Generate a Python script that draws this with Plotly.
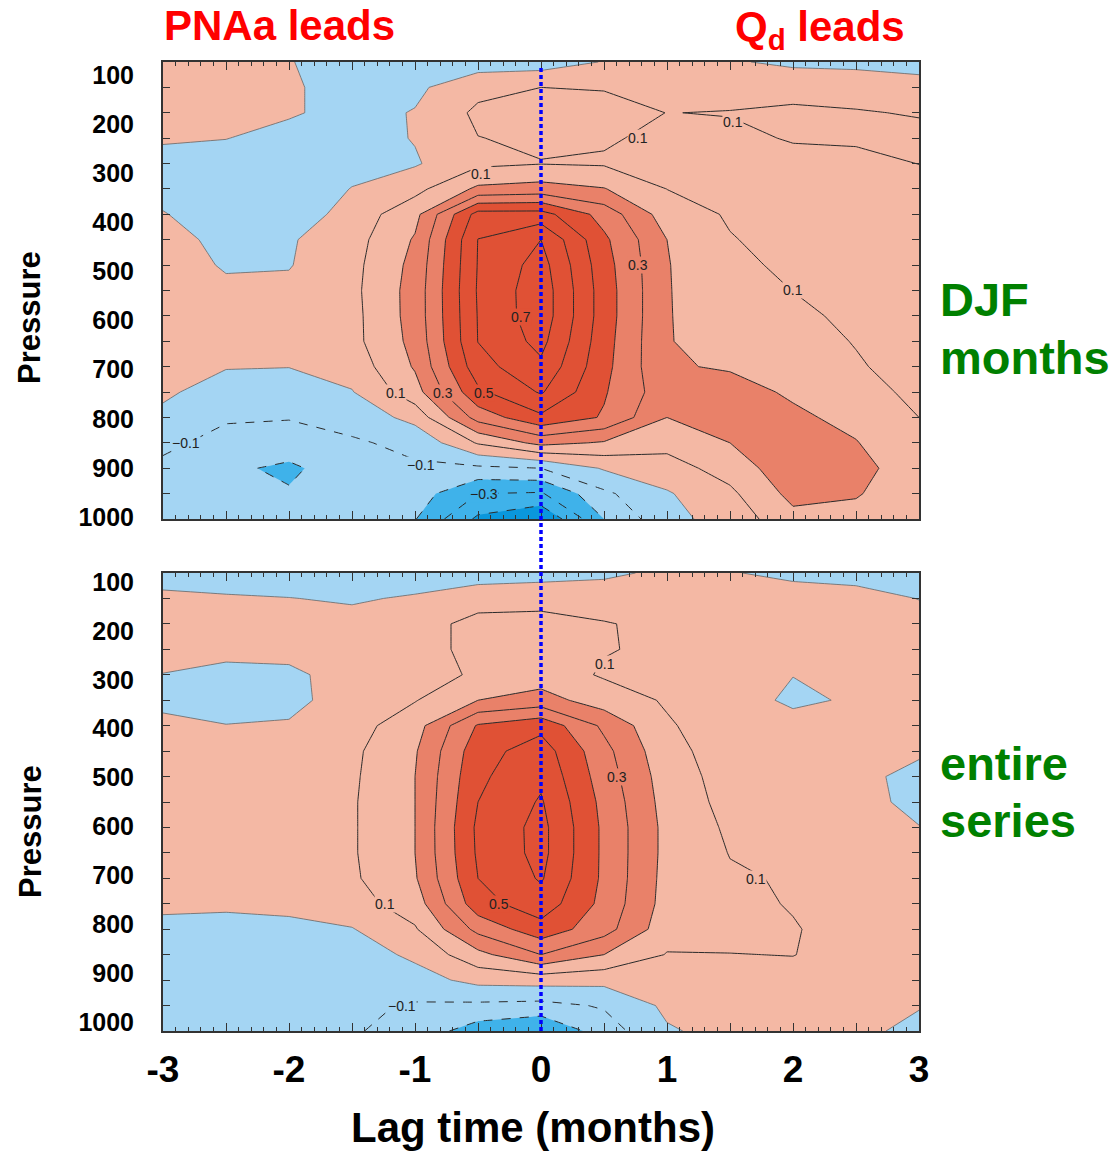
import plotly.graph_objects as go

# ---------------- data ----------------
LAGS = [-3.0, -2.5, -2.0, -1.5, -1.0, -0.5, 0.0, 0.5, 1.0, 1.5, 2.0, 2.5, 3.0]
PRESSURE = [100, 150, 200, 250, 300, 350, 400, 450, 500, 550,
            600, 650, 700, 750, 800, 850, 900, 950, 1000]

# lag-correlation, DJF months (rows = pressure, cols = lag)
DJF_CORR = [
    [0.05, 0.06, 0.005, -0.05, -0.06, -0.05, -0.05, 0.005, 0.03, 0.01, -0.02, -0.03, -0.05],
    [0.05, 0.05, 0.01, -0.03, -0.02, 0.07, 0.10, 0.095, 0.08, 0.07, 0.07, 0.07, 0.05],
    [0.04, 0.03, 0.01, -0.03, 0.005, 0.12, 0.14, 0.13, 0.099, 0.103, 0.115, 0.105, 0.095],
    [0.01, 0.002, -0.03, -0.04, 0.005, 0.098, 0.115, 0.11, 0.08, 0.085, 0.105, 0.11, 0.12],
    [-0.03, -0.04, -0.06, -0.03, -0.01, 0.08, 0.097, 0.09, 0.08, 0.085, 0.08, 0.08, 0.101],
    [-0.03, -0.05, -0.06, 0.003, 0.07, 0.22, 0.24, 0.205, 0.099, 0.085, 0.07, 0.06, 0.07],
    [0.005, -0.05, -0.06, 0.04, 0.17, 0.54, 0.54, 0.36, 0.15, 0.09, 0.06, 0.05, 0.05],
    [0.04, -0.03, -0.01, 0.06, 0.21, 0.602, 0.70, 0.42, 0.20, 0.105, 0.07, 0.05, 0.04],
    [0.05, -0.01, -0.005, 0.07, 0.23, 0.605, 0.74, 0.44, 0.205, 0.12, 0.083, 0.06, 0.04],
    [0.05, 0.02, 0.02, 0.075, 0.24, 0.61, 0.76, 0.45, 0.205, 0.14, 0.099, 0.07, 0.05],
    [0.05, 0.04, 0.05, 0.07, 0.24, 0.605, 0.76, 0.45, 0.205, 0.15, 0.12, 0.08, 0.055],
    [0.04, 0.03, 0.04, 0.07, 0.23, 0.602, 0.73, 0.44, 0.205, 0.16, 0.14, 0.095, 0.055],
    [0.03, 0.005, 0.002, 0.04, 0.21, 0.56, 0.68, 0.43, 0.21, 0.19, 0.16, 0.11, 0.06],
    [0.015, -0.04, -0.05, -0.005, 0.16, 0.48, 0.61, 0.41, 0.24, 0.24, 0.185, 0.14, 0.075],
    [-0.02, -0.09, -0.095, -0.07, 0.035, 0.34, 0.48, 0.39, 0.20, 0.26, 0.22, 0.17, 0.10],
    [-0.08, -0.13, -0.143, -0.11, -0.08, 0.11, 0.23, 0.19, 0.13, 0.20, 0.26, 0.205, 0.11],
    [-0.12, -0.18, -0.22, -0.14, -0.11, -0.12, -0.10, 0.01, 0.06, 0.14, 0.27, 0.24, 0.13],
    [-0.14, -0.16, -0.19, -0.15, -0.15, -0.30, -0.31, -0.12, -0.01, 0.08, 0.23, 0.21, 0.12],
    [-0.15, -0.15, -0.17, -0.15, -0.195, -0.42, -0.50, -0.20, -0.03, 0.04, 0.17, 0.16, 0.11],
]

# lag-correlation, entire series
ALL_CORR = [
    [-0.04, -0.05, -0.05, -0.05, -0.05, -0.05, -0.04, -0.02, 0.02, 0.005, -0.02, -0.03, -0.05],
    [0.02, 0.01, 0.002, -0.01, 0.01, 0.06, 0.07, 0.06, 0.06, 0.04, 0.04, 0.03, -0.002],
    [0.04, 0.04, 0.03, 0.03, 0.06, 0.13, 0.13, 0.105, 0.08, 0.05, 0.04, 0.04, 0.03],
    [0.03, 0.03, 0.03, 0.04, 0.06, 0.13, 0.14, 0.105, 0.085, 0.05, 0.02, 0.04, 0.04],
    [-0.002, -0.03, -0.02, 0.04, 0.07, 0.11, 0.15, 0.09, 0.08, 0.05, 0.002, 0.03, 0.04],
    [-0.02, -0.05, -0.03, 0.05, 0.095, 0.20, 0.24, 0.15, 0.09, 0.05, -0.02, 0.013, 0.03],
    [0.02, 0.003, 0.01, 0.06, 0.16, 0.41, 0.47, 0.28, 0.11, 0.05, 0.04, 0.02, 0.02],
    [0.04, 0.04, 0.04, 0.08, 0.19, 0.46, 0.55, 0.33, 0.13, 0.055, 0.05, 0.02, 0.01],
    [0.04, 0.05, 0.05, 0.085, 0.20, 0.48, 0.58, 0.35, 0.15, 0.06, 0.05, 0.018, -0.02],
    [0.04, 0.05, 0.06, 0.09, 0.20, 0.50, 0.61, 0.37, 0.16, 0.07, 0.06, 0.025, -0.02],
    [0.04, 0.05, 0.06, 0.09, 0.20, 0.52, 0.63, 0.38, 0.17, 0.085, 0.07, 0.04, 0.002],
    [0.04, 0.05, 0.06, 0.09, 0.20, 0.515, 0.63, 0.38, 0.17, 0.097, 0.08, 0.05, 0.02],
    [0.04, 0.04, 0.05, 0.085, 0.19, 0.50, 0.61, 0.38, 0.165, 0.11, 0.092, 0.06, 0.03],
    [0.015, 0.01, 0.02, 0.06, 0.15, 0.46, 0.56, 0.37, 0.16, 0.12, 0.095, 0.065, 0.04],
    [-0.02, -0.02, -0.02, -0.005, 0.09, 0.33, 0.46, 0.34, 0.14, 0.13, 0.105, 0.07, 0.04],
    [-0.04, -0.05, -0.06, -0.05, 0.02, 0.17, 0.30, 0.20, 0.095, 0.098, 0.102, 0.065, 0.03],
    [-0.05, -0.06, -0.07, -0.07, -0.04, 0.03, 0.04, 0.03, 0.05, 0.08, 0.07, 0.06, 0.02],
    [-0.05, -0.06, -0.07, -0.08, -0.11, -0.12, -0.13, -0.09, 0.02, 0.05, 0.05, 0.04, 0.005],
    [-0.05, -0.06, -0.08, -0.09, -0.14, -0.25, -0.30, -0.15, -0.01, 0.03, 0.04, 0.02, -0.022],
]

# contour labels as they appear in the figure: (lag, pressure, level)
DJF_LABELS = [(-0.48, 320, 0.1), (0.77, 250, 0.1), (1.52, 218, 0.1), (0.77, 500, 0.3),
              (2.0, 549, 0.1), (-0.16, 602, 0.7), (-1.15, 752, 0.1), (-0.78, 752, 0.3),
              (-0.45, 752, 0.5), (-2.82, 850, -0.1), (-0.95, 894, -0.1), (-0.45, 951, -0.3)]
ALL_LABELS = [(0.51, 279, 0.1), (0.6, 501, 0.3), (-1.24, 750, 0.1), (-0.33, 750, 0.5),
              (1.71, 701, 0.1), (-1.1, 951, -0.1)]

X_TICK_VALS = [-3, -2, -1, 0, 1, 2, 3]
X_TICK_TEXT = ["-3", "-2", "-1", "0", "1", "2", "3"]
X_HALF_TICKS = [-2.5, -1.5, -0.5, 0.5, 1.5, 2.5]
P_TICK_VALS = [100, 200, 300, 400, 500, 600, 700, 800, 900, 1000]
P_TICK_TEXT = ["100", "200", "300", "400", "500", "600", "700", "800", "900", "1000"]
LAG_ZERO = 0

# ---------------- style ----------------
FONT = "Liberation Sans, Arial, sans-serif"
W, H = 1120, 1152


def px(x):      # page pixel -> paper x
    return x / W


def py(y):      # page pixel -> paper y
    return (H - y) / H


X_DOM = [px(163), px(919)]
TOP_DOM = [py(519), py(62)]
BOT_DOM = [py(1031), py(573)]

C_DEEP_BLUE = "#0A97DD"
C_MED_BLUE = "#3FB2EA"
C_LIGHT_BLUE = "#A4D5F3"
C_LIGHT_SALMON = "#F4B8A4"
C_MED_SALMON = "#E98169"
C_RED = "#E05135"
FILL_SCALE = [
    [0.0, C_DEEP_BLUE], [0.1, C_DEEP_BLUE],
    [0.1, C_MED_BLUE], [0.3, C_MED_BLUE],
    [0.3, C_LIGHT_BLUE], [0.5, C_LIGHT_BLUE],
    [0.5, C_LIGHT_SALMON], [0.7, C_LIGHT_SALMON],
    [0.7, C_MED_SALMON], [0.9, C_MED_SALMON],
    [0.9, C_RED], [1.0, C_RED],
]
LINE_C = "#2a2a2a"
AX_C = "#333333"


def band_color(v):
    if v < -0.4:
        return C_DEEP_BLUE
    if v < -0.2:
        return C_MED_BLUE
    if v < 0:
        return C_LIGHT_BLUE
    if v < 0.2:
        return C_LIGHT_SALMON
    if v < 0.4:
        return C_MED_SALMON
    return C_RED


# (start, end, size, dash, color, width)
LINE_SETS = [
    (0.1, 0.71, 0.1, "solid", LINE_C, 1.0),
    (0.0, 0.05, 0.1, "solid", "#666666", 0.8),
    (-0.6, -0.09, 0.1, "dash", LINE_C, 1.0),
]

fig = go.Figure()


def add_panel(z, xa, ya):
    fig.add_trace(go.Contour(
        x=LAGS, y=PRESSURE, z=z, xaxis=xa, yaxis=ya,
        autocontour=False,
        contours=dict(start=-0.4, end=0.41, size=0.2, coloring="fill", showlines=False),
        colorscale=FILL_SCALE, showscale=False,
        line=dict(width=0, smoothing=0), hoverinfo="skip",
    ))
    for start, end, size, dash, color, width in LINE_SETS:
        fig.add_trace(go.Contour(
            x=LAGS, y=PRESSURE, z=z, xaxis=xa, yaxis=ya,
            autocontour=False,
            contours=dict(start=start, end=end, size=size, coloring="none", showlabels=False),
            showscale=False,
            line=dict(color=color, width=width, dash=dash, smoothing=0),
            hoverinfo="skip",
        ))


def add_labels(labels, xa, ya):
    for lag, p, lev in labels:
        txt = ("\u2212" if lev < 0 else "") + f"{abs(lev):.1f}"
        fig.add_annotation(x=lag, y=p, xref=xa, yref=ya, text=txt, showarrow=False,
                           bgcolor=band_color(lev), borderpad=0,
                           font=dict(family=FONT, size=14, color="#222222"))


add_panel(DJF_CORR, "x", "y")
add_panel(ALL_CORR, "x2", "y2")
add_labels(DJF_LABELS, "x", "y")
add_labels(ALL_LABELS, "x2", "y2")

# dummy traces to attach the helper axes (tick labels / half-month ticks)
for xa, ya in [("x", "y3"), ("x2", "y4"), ("x3", "y"), ("x4", "y2")]:
    fig.add_trace(go.Scatter(x=[None], y=[None], xaxis=xa, yaxis=ya,
                             showlegend=False, hoverinfo="skip"))

frame = dict(showline=True, linecolor=AX_C, linewidth=1.5, mirror="ticks",
             showgrid=False, zeroline=False, ticks="inside", tickcolor=AX_C,
             tickwidth=1, automargin=False)

xcommon = dict(domain=X_DOM, range=[-3, 3], tickmode="array", tickvals=X_TICK_VALS,
               ticklen=8,
               minor=dict(dtick=0.1, tick0=-3, ticks="inside", ticklen=4,
                          tickcolor=AX_C, showgrid=False),
               **frame)
xhalf = dict(domain=X_DOM, range=[-3, 3], tickmode="array", tickvals=X_HALF_TICKS,
             ticks="inside", ticklen=8, tickcolor=AX_C, tickwidth=1, mirror="ticks",
             showline=False, showgrid=False, zeroline=False, showticklabels=False,
             automargin=False)
ycommon = dict(range=[1000, 100], dtick=50, tick0=100, ticklen=7, showticklabels=False, **frame)
ylab = dict(side="left", tickmode="array", tickvals=P_TICK_VALS, ticktext=P_TICK_TEXT,
            showgrid=False, zeroline=False, showline=False, ticks="", automargin=False,
            ticklabelstandoff=28,
            tickfont=dict(family=FONT, size=25, color="black", weight="bold"))

fig.update_layout(
    width=W, height=H, autosize=False,
    margin=dict(l=0, r=0, t=0, b=0, pad=0, autoexpand=False),
    paper_bgcolor="white", plot_bgcolor="white",
    showlegend=False,
    font=dict(family=FONT, color="black"),
    xaxis=dict(anchor="y", showticklabels=False, **xcommon),
    yaxis=dict(anchor="x", domain=TOP_DOM, **ycommon),
    xaxis2=dict(anchor="y2", showticklabels=True, ticktext=X_TICK_TEXT,
                tickfont=dict(family=FONT, size=37, color="black", weight="bold"),
                ticklabelstandoff=5, **xcommon),
    yaxis2=dict(anchor="x2", domain=BOT_DOM, **ycommon),
    xaxis3=dict(overlaying="x", anchor="y", **xhalf),
    xaxis4=dict(overlaying="x2", anchor="y2", **xhalf),
    yaxis3=dict(overlaying="y", anchor="x", range=[1004, 73.5], **ylab),
    yaxis4=dict(overlaying="y2", anchor="x2", range=[1018.4, 81.6], **ylab),
)

# vertical dotted line at lag 0 spanning both panels
fig.add_shape(type="line", xref="x", yref="paper", x0=LAG_ZERO, x1=LAG_ZERO,
              y0=BOT_DOM[0], y1=TOP_DOM[1] - 3 / H,
              line=dict(color="#0000FF", width=3.5, dash="4px,3px"), layer="above")


def ann(text, x, y, size, color, xanchor="center", angle=0):
    fig.add_annotation(text=text, x=px(x), y=py(y), xref="paper", yref="paper",
                       showarrow=False, xanchor=xanchor, yanchor="middle", textangle=angle,
                       font=dict(family=FONT, size=size, color=color, weight="bold"))


ann("PNAa leads", 279, 26, 42, "#FF0000")
ann("Q<sub>d</sub> leads", 820, 29, 42, "#FF0000")
ann("DJF", 938, 300, 47, "#008000", xanchor="left")
ann("months", 938, 357, 47, "#008000", xanchor="left")
ann("entire", 938, 763, 47, "#008000", xanchor="left")
ann("series", 938, 820, 47, "#008000", xanchor="left")
ann("Pressure", 30, 318, 31, "black", angle=-90)
ann("Pressure", 30, 832, 31, "black", angle=-90)
ann("Lag time (months)", 533, 1127, 42, "black")

# the page's default 8px body margin would shift the figure; remove it
fig.write_html("out.html", config={"displayModeBar": False},
               post_script="document.body.style.margin='0px';")
